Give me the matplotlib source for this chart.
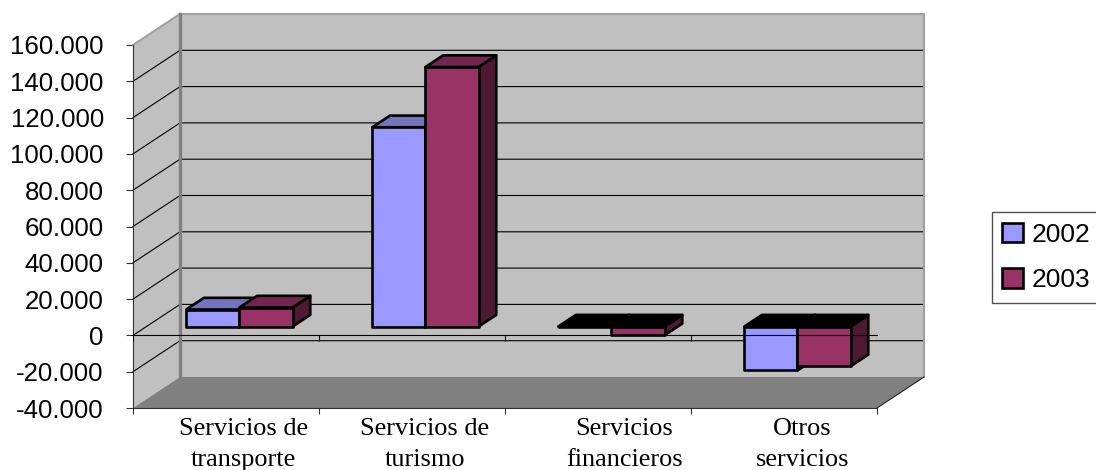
import matplotlib as mpl
mpl.use('Agg')
import matplotlib.pyplot as plt
from matplotlib.patches import Polygon, Patch

categorias = ["Servicios de\ntransporte", "Servicios de\nturismo", "Servicios\nfinancieros", "Otros\nservicios"]
valores_2002 = [9400, 109800, -300, -24200]
valores_2003 = [10500, 143000, -4800, -21900]
y_ticks = [-40000, -20000, 0, 20000, 40000, 60000, 80000, 100000, 120000, 140000, 160000]
y_labels = ["-40.000", "-20.000", "0", "20.000", "40.000", "60.000", "80.000", "100.000", "120.000", "140.000", "160.000"]
anni = ["2002", "2003"]

# fake 3d: the back wall is the front plane moved by this much, in data units
DX = 47 / 186
DY = 31 / 363 * 200000

def p(x, y, d):
    return (x + d * DX, y + d * DY)

def faccia(ax, punti, colore, z, lw=1.9):
    ax.add_patch(Polygon(punti, closed=True, facecolor=colore, edgecolor='black',
                         linewidth=lw, joinstyle='round', zorder=z, clip_on=False))

def barra(ax, x0, w, v, col_front, col_top, col_side, z):
    d0 = 0.285
    d1 = 0.662
    top = max(v, 0)
    low = min(v, 0)
    faccia(ax, [p(x0 + w, low, d0), p(x0 + w, low, d1), p(x0 + w, top, d1), p(x0 + w, top, d0)], col_side, z)
    faccia(ax, [p(x0, top, d0), p(x0, top, d1), p(x0 + w, top, d1), p(x0 + w, top, d0)],
           col_top if v > 0 else 'black', z)
    faccia(ax, [p(x0, low, d0), p(x0 + w, low, d0), p(x0 + w, top, d0), p(x0, top, d0)], col_front, z)

fig = plt.figure(figsize=(10.96, 4.70), dpi=100)
ax = fig.add_axes([133 / 1096, (470 - 408) / 470, 744 / 1096, 363 / 470])
ax.set_xlim(0, 4)
ax.set_ylim(-40000, 160000)
ax.patch.set_visible(False)
for s in ['top', 'right']:
    ax.spines[s].set_visible(False)
for s in ['left', 'bottom']:
    ax.spines[s].set_linewidth(0.8)
    ax.spines[s].set_color('#303030')
    ax.spines[s].set_zorder(6)

# walls and floor
y_min, y_max = y_ticks[0], y_ticks[-1]
ax.add_patch(Polygon([p(0, y_min, 0), p(0, y_max, 0), p(0, y_max, 1), p(0, y_min, 1)], closed=True,
                     facecolor='#c0c0c0', edgecolor='none', zorder=1, clip_on=False))
ax.add_patch(Polygon([p(0, y_min, 1), p(0, y_max, 1), p(4, y_max, 1), p(4, y_min, 1)], closed=True,
                     facecolor='#c0c0c0', edgecolor='none', zorder=1, clip_on=False))
ax.add_patch(Polygon([p(0, y_min, 0), p(0, y_min, 1), p(4, y_min, 1), p(4, y_min, 0)], closed=True,
                     facecolor='#808080', edgecolor='none', zorder=1, clip_on=False))

# grid on left wall and back wall
for v in y_ticks[1:-1]:
    a, b, c = p(0, v, 0), p(0, v, 1), p(4, v, 1)
    ax.plot([a[0], b[0], c[0]], [a[1], b[1], c[1]], color='black', lw=0.8, zorder=2, clip_on=False)

# wall edges
a, b, c, d = p(0, y_max, 0), p(0, y_max, 1), p(4, y_max, 1), p(4, y_min, 1)
ax.plot([a[0], b[0], c[0], d[0]], [a[1], b[1], c[1], d[1]], color='#a0a0a0', lw=1.5, zorder=3, clip_on=False)
e = p(0, y_min, 1)
ax.plot([b[0], e[0]], [b[1], e[1]], color='#808080', lw=2.4, zorder=3, clip_on=False)
f = p(4, y_min, 0)
ax.plot([f[0], d[0]], [f[1], d[1]], color='#202020', lw=0.8, zorder=3, clip_on=False)

# bars
ancho = 1 / 3.5
for i in range(len(categorias)):
    x0 = i + 0.75 * ancho
    barra(ax, x0, ancho, valores_2002[i], '#9999ff', '#7373bf', '#4d4d80', 4)
    barra(ax, x0 + ancho, ancho, valores_2003[i], '#993366', '#73264d', '#4d1933', 5)

# category axis sits on zero, over the bars
ax.plot([0, 4], [0, 0], color='black', lw=0.8, zorder=7, clip_on=False)
ax.vlines(range(5), -3300, 0, color='black', lw=0.8, zorder=7)

ax.set_yticks(y_ticks)
ax.set_yticklabels(y_labels, family='Liberation Sans', fontsize=18.6)
ax.tick_params(axis='y', length=5, width=0.8, pad=16, color='#303030')
ax.set_xticks(range(5))
ax.set_xticklabels([])
ax.tick_params(axis='x', length=4.5, width=0.8, color='#303030')

pos_x = [0.595, 1.57, 2.64, 3.60]
for x, txt in zip(pos_x, categorias):
    ax.text(x, -45600, txt, family='Liberation Serif', fontsize=18.9, ha='center', va='top',
            linespacing=1.5, clip_on=False)

handles = [Patch(facecolor='#9999ff', edgecolor='black', linewidth=1.9),
           Patch(facecolor='#993366', edgecolor='black', linewidth=1.9)]
fig.legend(handles, anni, loc='upper left', bbox_to_anchor=(991.5 / 1096, 1 - 212 / 470),
           prop={'family': 'Liberation Sans', 'size': 19}, frameon=True, fancybox=False,
           edgecolor='#505050', framealpha=1, borderpad=0.4, labelspacing=0.82,
           handlelength=0.78, handleheight=0.75, handletextpad=0.34, borderaxespad=0)

fig.savefig('out.png', dpi=100)
